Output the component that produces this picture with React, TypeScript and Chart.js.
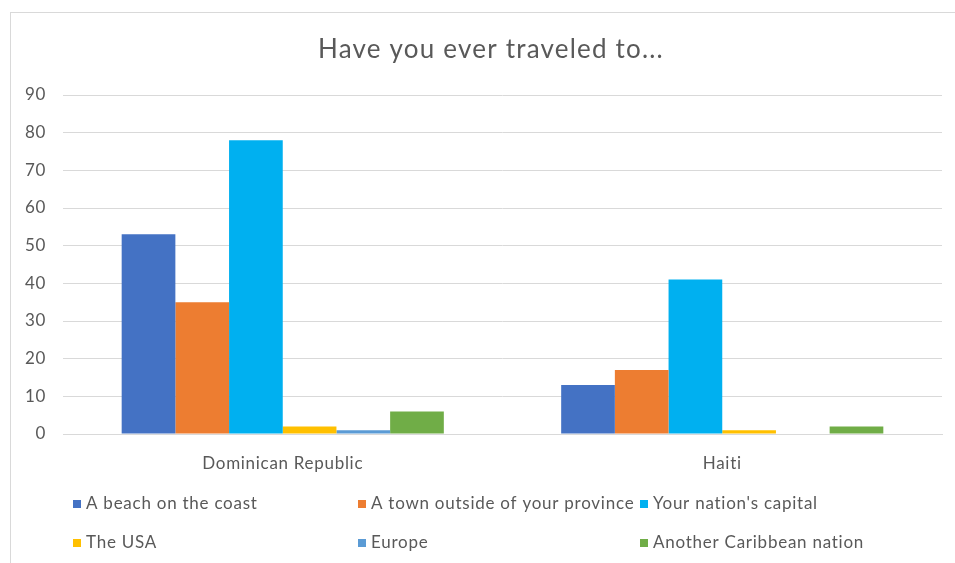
import React, { useEffect, useRef } from 'react';
import { Chart, registerables } from 'chart.js';

Chart.register(...registerables);

const title = 'Have you ever traveled to...';
const categories = ['Dominican Republic', 'Haiti'];
const seriesNames = [
  'A beach on the coast',
  'A town outside of your province',
  "Your nation's capital",
  'The USA',
  'Europe',
  'Another Caribbean nation',
];
const beach = [53, 13];
const town = [35, 17];
const capital = [78, 41];
const usa = [2, 1];
const europe = [1, 0];
const caribbean = [6, 2];
const seriesValues = [beach, town, capital, usa, europe, caribbean];
const seriesColors = ['#4472C4', '#ED7D31', '#00B0F0', '#FFC000', '#5B9BD5', '#70AD47'];
const yMin = 0;
const yMax = 90;
const yStep = 10;

const FONT = 'Lato, "Open Sans", sans-serif';
const TEXT = '#595959';

const spacingPlugin = {
  id: 'letterSpacing',
  beforeDraw(chart: any) {
    (chart.ctx as any).letterSpacing = '0.7px';
  },
};

const titlePlugin = {
  id: 'customTitle',
  afterDraw(chart: any) {
    const ctx = chart.ctx;
    ctx.save();
    (ctx as any).letterSpacing = '1.2px';
    ctx.fillStyle = TEXT;
    ctx.font = `26px ${FONT}`;
    ctx.textAlign = 'center';
    ctx.textBaseline = 'middle';
    ctx.fillText(title, 480, 37);
    ctx.restore();
  },
};

const legendPlugin = {
  id: 'gridLegend',
  afterDraw(chart: any) {
    const ctx = chart.ctx;
    const cols = [62, 347, 629];
    const rows = [491, 530];
    ctx.save();
    (ctx as any).letterSpacing = '0.75px';
    chart.data.datasets.forEach((ds: any, i: number) => {
      const x = cols[i % 3];
      const y = rows[Math.floor(i / 3)];
      ctx.fillStyle = ds.backgroundColor;
      ctx.fillRect(x, y - 4, 8, 8);
      ctx.fillStyle = TEXT;
      ctx.font = `17px ${FONT}`;
      ctx.textAlign = 'left';
      ctx.textBaseline = 'middle';
      ctx.fillText(ds.label, x + 13, y);
    });
    ctx.restore();
  },
};

export default function App() {
  const ref = useRef<HTMLCanvasElement>(null);
  useEffect(() => {
    if (!ref.current) return;
    const chart = new Chart(ref.current, {
      type: 'bar',
      data: {
        labels: categories,
        datasets: seriesNames.map((name, i) => ({
          label: name,
          data: seriesValues[i],
          backgroundColor: seriesColors[i],
          borderWidth: 0,
          categoryPercentage: 0.733,
          barPercentage: 1,
        })),
      },
      options: {
        animation: false,
        responsive: false,
        maintainAspectRatio: false,
        layout: { padding: { top: 82, right: 13, left: 0, bottom: 0 } },
        plugins: {
          legend: { display: false },
          title: { display: false },
          tooltip: { enabled: false },
        },
        scales: {
          x: {
            grid: { display: false, drawTicks: false },
            border: { display: true, color: '#d9d9d9', width: 1 },
            ticks: { color: TEXT, font: { family: FONT, size: 17 }, padding: 19 },
            afterFit(scale: any) {
              scale.height = 129;
            },
          },
          y: {
            min: yMin,
            max: yMax,
            grid: { color: '#d9d9d9', lineWidth: 1, drawTicks: false },
            border: { display: false },
            ticks: { stepSize: yStep, color: TEXT, font: { family: FONT, size: 17 }, padding: 17 },
            afterFit(scale: any) {
              scale.width = 52;
            },
          },
        },
      },
      plugins: [spacingPlugin, titlePlugin, legendPlugin],
    });
    return () => chart.destroy();
  }, []);
  return (
    <div
      style={{
        position: 'absolute',
        left: 10,
        top: 12,
        width: 944,
        height: 550,
        borderTop: '1px solid #d9d9d9',
        borderLeft: '1px solid #d9d9d9',
        background: '#fff',
      }}
    >
      <canvas ref={ref} width={944} height={550} style={{ display: 'block' }} />
    </div>
  );
}
